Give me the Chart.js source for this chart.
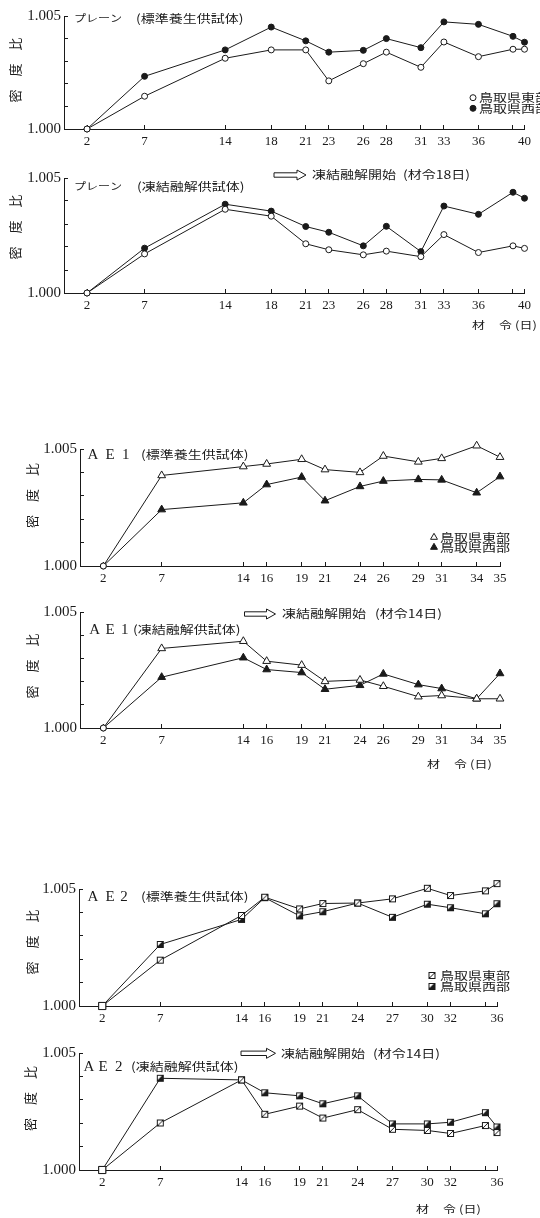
<!DOCTYPE html>
<html><head><meta charset="utf-8">
<script src="https://cdn.jsdelivr.net/npm/chart.js@4.4.1/dist/chart.umd.min.js"></script>
<style>
html,body{margin:0;padding:0;background:#fff;}
body{width:540px;height:1218px;position:relative;overflow:hidden;}
canvas{position:absolute;left:0;}
</style></head><body>
<canvas id="c1"></canvas><canvas id="c2"></canvas><canvas id="c3"></canvas>
<canvas id="c4"></canvas><canvas id="c5"></canvas><canvas id="c6"></canvas>
<script>
// ---------------- data ----------------
// x positions and the tick texts printed under them
const plainDays = [2,7,14,18,21,23,26,28,31,33,36,39,40];
const plainTickText = ['2','7','14','18','21','23','26','28','31','33','36','','40'];
const plainStdEast = [1.000,1.00145,1.00313,1.0035,1.0035,1.00213,1.00289,1.0034,1.00273,1.00385,1.0032,1.00353,1.00353];
const plainStdWest = [1.000,1.00233,1.0035,1.00451,1.0039,1.0034,1.00348,1.004,1.0036,1.00474,1.00463,1.0041,1.00384];
const plainFtEast  = [1.000,1.0017,1.00364,1.00334,1.00214,1.00188,1.00166,1.00182,1.00158,1.00254,1.00176,1.00205,1.00194];
const plainFtWest  = [1.000,1.00195,1.00386,1.00356,1.00289,1.00264,1.00205,1.0029,1.0018,1.00378,1.00342,1.00438,1.00412];

const ae1Days = [2,7,14,16,19,21,24,26,29,31,34,36];
const ae1TickText = ['2','7','14','16','19','21','24','26','29','31','34','35'];
const ae1StdEast = [1.000,1.00387,1.00425,1.00436,1.00456,1.00412,1.004,1.0047,1.00445,1.0046,1.00514,1.00465];
const ae1StdWest = [1.000,1.00241,1.0027,1.00348,1.0038,1.00279,1.0034,1.00363,1.0037,1.00368,1.00313,1.00382];
const ae1FtEast  = [1.000,1.00343,1.00374,1.00288,1.00271,1.00201,1.00207,1.0018,1.00135,1.0014,1.00126,1.00126];
const ae1FtWest  = [1.000,1.00219,1.00303,1.00252,1.00239,1.00167,1.00184,1.00233,1.00187,1.0017,1.00126,1.00235];

const ae2Days = [2,7,14,16,19,21,24,27,30,32,35,36];
const ae2TickText = ['2','7','14','16','19','21','24','27','30','32','','36'];
const ae2StdEast = [1.000,1.00196,1.00387,1.00465,1.00415,1.00438,1.0044,1.00458,1.00503,1.00472,1.00492,1.00523];
const ae2StdWest = [1.000,1.00263,1.0037,1.00463,1.00385,1.00403,1.0044,1.00379,1.00435,1.0042,1.00394,1.00437];
const ae2FtEast  = [1.000,1.00201,1.00385,1.00238,1.00273,1.00222,1.00258,1.00174,1.00169,1.00156,1.0019,1.0016];
const ae2FtWest  = [1.000,1.00392,1.00385,1.0033,1.00317,1.00283,1.00317,1.00197,1.00197,1.00204,1.00245,1.00184];

const yMin = 1.000, yMax = 1.005, yStep = 0.001;
const yTickLabels = ['1.000', '1.005'];
const seriesNames = ['鳥取県東部', '鳥取県西部'];
const yTitle = '密　度　比';
const xTitleParts = ['材', '令', '(日)'];
const plainName = 'プレーン';
const stdName = '(標準養生供試体)';
const ftName = '(凍結融解供試体)';
const arrowMain = '凍結融解開始';
const arrowNote18 = '(材令18日)';
const arrowNote14 = '(材令14日)';

// ---------------- styles ----------------
const INK = '#1a1a1a';
const SERIF = '"Liberation Serif", "DejaVu Serif", serif';
const CJK = '"Noto Sans CJK JP", sans-serif';

function mkMarker(kind) {
  const c = document.createElement('canvas');
  c.width = 9; c.height = 9;
  const g = c.getContext('2d');
  g.strokeStyle = INK; g.lineWidth = 1;
  if (kind === 'half') {
    g.fillStyle = INK; g.fillRect(1, 1, 7, 7);
    g.fillStyle = '#fff';
    g.beginPath(); g.moveTo(2, 2); g.lineTo(6, 2); g.lineTo(2, 6); g.closePath(); g.fill();
    g.strokeRect(1.5, 1.5, 6, 6);
  } else {
    g.fillStyle = '#fff'; g.fillRect(1, 1, 7, 7);
    g.strokeRect(1.5, 1.5, 6, 6);
    g.beginPath(); g.moveTo(1.5, 7.5); g.lineTo(7.5, 1.5); g.stroke();
  }
  return c;
}
const hatchImg = mkMarker('hatch');
const halfImg = mkMarker('half');

function drawLegendMarker(ctx, m, x, y) {
  ctx.save();
  ctx.lineWidth = 1; ctx.strokeStyle = INK;
  if (m.img) { ctx.drawImage(m.img, x - m.img.width / 2, y - m.img.height / 2); ctx.restore(); return; }
  ctx.fillStyle = m.fill;
  ctx.beginPath();
  if (m.style === 'circle') {
    ctx.arc(x, y, m.r, 0, Math.PI * 2);
  } else {
    let a = 0;
    ctx.moveTo(x + Math.sin(a) * m.r, y - Math.cos(a) * m.r);
    a += Math.PI * 2 / 3; ctx.lineTo(x + Math.sin(a) * m.r, y - Math.cos(a) * m.r);
    a += Math.PI * 2 / 3; ctx.lineTo(x + Math.sin(a) * m.r, y - Math.cos(a) * m.r);
    ctx.closePath();
  }
  ctx.fill(); ctx.stroke();
  ctx.restore();
}

function cjkText(ctx, text, x, y, size, align) {
  ctx.save();
  ctx.font = size + 'px ' + CJK;
  ctx.fillStyle = INK;
  ctx.textAlign = align || 'left';
  ctx.textBaseline = 'middle';
  ctx.translate(x, y); ctx.scale(1, 0.82);
  ctx.fillText(text, 0, 0);
  ctx.restore();
}

function hollowArrow(ctx, x1, x2, y) {
  const hw = 2.2, hh = 5, hl = 9;
  ctx.save();
  ctx.beginPath();
  ctx.moveTo(x1, y - hw); ctx.lineTo(x2 - hl, y - hw); ctx.lineTo(x2 - hl, y - hh);
  ctx.lineTo(x2, y); ctx.lineTo(x2 - hl, y + hh); ctx.lineTo(x2 - hl, y + hw);
  ctx.lineTo(x1, y + hw); ctx.closePath();
  ctx.lineWidth = 1; ctx.strokeStyle = INK; ctx.stroke();
  ctx.restore();
}

const annotPlugin = {
  id: 'annot',
  afterDraw(chart, args, o) {
    const ctx = chart.ctx;
    ctx.save();
    ctx.translate(0, -o.oy);
    // y title
    ctx.save();
    ctx.translate(o.ylab.x, o.ylab.y); ctx.rotate(-Math.PI / 2);
    ctx.font = '13px ' + CJK; ctx.fillStyle = INK;
    ctx.textAlign = 'center'; ctx.textBaseline = 'middle';
    ctx.fillText(yTitle, 0, 0);
    ctx.restore();
    // panel title
    const t = o.title;
    if (t.prefix) cjkText(ctx, t.prefix, t.prefixX, t.y, 12);
    if (t.letters) {
      ctx.save();
      ctx.font = '15px ' + SERIF; ctx.fillStyle = INK;
      ctx.textAlign = 'center'; ctx.textBaseline = 'middle';
      t.letters.forEach(l => ctx.fillText(l[0], l[1], t.y + 0.5));
      ctx.restore();
    }
    cjkText(ctx, t.paren, t.parenX, t.y, 14);
    // legend
    if (o.legend) {
      const L = o.legend;
      drawLegendMarker(ctx, L.m1, L.x, L.y1);
      drawLegendMarker(ctx, L.m2, L.x, L.y2);
      cjkText(ctx, seriesNames[0], L.tx, L.y1, 14);
      cjkText(ctx, seriesNames[1], L.tx, L.y2, 14);
    }
    // arrow note
    if (o.arrow) {
      const A = o.arrow;
      hollowArrow(ctx, A.x1, A.x2, A.y);
      cjkText(ctx, arrowMain, A.t1, A.y, 14);
      cjkText(ctx, A.note, A.t2, A.y, 14);
    }
    // x title
    if (o.xtitle) {
      const X = o.xtitle;
      cjkText(ctx, xTitleParts[0], X.x, X.y, 13);
      cjkText(ctx, xTitleParts[1], X.x + 27, X.y, 13);
      cjkText(ctx, xTitleParts[2], X.x + 43, X.y, 13);
    }
    ctx.restore();
  }
};

function ptStyles(n, first, rest) { return Array.from({length: n}, (_, i) => i === 0 ? first : rest); }

function build(c) {
  const cv = document.getElementById(c.id);
  cv.width = 540; cv.height = c.h; cv.style.top = c.top + 'px';
  const A = c.area;
  const n = c.days.length;
  const mk = c.markers;
  const ds = (label, vals, m) => ({
    label,
    data: c.days.map((d, i) => ({x: d, y: vals[i]})),
    borderColor: INK, borderWidth: 1, tension: 0, fill: false, clip: false,
    pointStyle: ptStyles(n, m.firstStyle, m.style),
    pointRadius: ptStyles(n, m.firstR, m.r),
    pointBackgroundColor: ptStyles(n, '#fff', m.fill),
    pointBorderColor: INK, pointBorderWidth: 1
  });
  new Chart(cv, {
    type: 'line',
    data: { datasets: [ds(seriesNames[0], c.east, mk.east), ds(seriesNames[1], c.west, mk.west)] },
    options: {
      responsive: false, animation: false, devicePixelRatio: 1,
      layout: { padding: { left: 0, top: A.t - c.top, right: 540 - A.r, bottom: 0 } },
      plugins: { legend: { display: false }, tooltip: { enabled: false }, annot: c.annot },
      scales: {
        x: {
          type: 'linear', position: 'bottom', min: 0, max: c.xmax,
          grid: { display: true, drawOnChartArea: false, drawTicks: true, tickLength: -4, color: INK, lineWidth: 1 },
          border: { display: true, color: INK, width: 1 },
          ticks: {
            autoSkip: false, maxRotation: 0, minRotation: 0, padding: 9, color: INK,
            font: { family: SERIF, size: 13 },
            callback: (v) => { const i = c.days.indexOf(v); return i >= 0 ? c.tickText[i] : ''; }
          },
          afterBuildTicks: (s) => { s.ticks = c.days.map(v => ({ value: v })); },
          afterFit: (s) => { s.height = c.top + c.h - A.b; }
        },
        y: {
          type: 'linear', position: 'left', min: yMin, max: yMax,
          grid: { display: true, drawOnChartArea: false, drawTicks: true, tickLength: -4, color: INK, lineWidth: 1 },
          border: { display: true, color: INK, width: 1 },
          ticks: {
            stepSize: yStep, padding: 7, color: INK, autoSkip: false,
            font: { family: SERIF, size: 15 },
            callback: (v) => Math.abs(v - yMin) < 1e-7 ? yTickLabels[0] : (Math.abs(v - yMax) < 1e-7 ? yTickLabels[1] : '')
          },
          afterFit: (s) => { s.width = A.l; }
        }
      }
    },
    plugins: [annotPlugin]
  });
}

const circleMarkers = {
  east: { firstStyle: 'circle', style: 'circle', firstR: 3, r: 3, fill: '#fff' },
  west: { firstStyle: 'circle', style: 'circle', firstR: 3, r: 3, fill: INK }
};
const triMarkers = {
  east: { firstStyle: 'circle', style: 'triangle', firstR: 3, r: 4.5, fill: '#fff' },
  west: { firstStyle: 'circle', style: 'triangle', firstR: 3, r: 4.5, fill: INK }
};
const sqMarkers = {
  east: { firstStyle: 'rect', style: hatchImg, firstR: 5, r: 4.5, fill: '#fff' },
  west: { firstStyle: 'rect', style: halfImg, firstR: 5, r: 4.5, fill: '#fff' }
};

const panels = [
  { id: 'c1', top: 0, h: 158, area: { l: 64, r: 530, t: 13, b: 129 }, xmax: 40,
    days: plainDays, tickText: plainTickText, east: plainStdEast, west: plainStdWest, markers: circleMarkers,
    annot: { oy: 0, ylab: { x: 15, y: 70 },
      title: { y: 18.5, prefix: plainName, prefixX: 74, paren: stdName, parenX: 136 },
      legend: { x: 473, y1: 97.7, y2: 108.3, tx: 479,
        m1: { style: 'circle', r: 3, fill: '#fff' }, m2: { style: 'circle', r: 3, fill: INK } } } },
  { id: 'c2', top: 158, h: 182, area: { l: 64, r: 530, t: 178, b: 293 }, xmax: 40,
    days: plainDays, tickText: plainTickText, east: plainFtEast, west: plainFtWest, markers: circleMarkers,
    annot: { oy: 158, ylab: { x: 15, y: 227 },
      title: { y: 186.7, prefix: plainName, prefixX: 74, paren: ftName, parenX: 137 },
      arrow: { x1: 274, x2: 306, y: 175, t1: 312, t2: 403, note: arrowNote18 },
      xtitle: { x: 472, y: 325 } } },
  { id: 'c3', top: 425, h: 165, area: { l: 80, r: 500, t: 449, b: 566 }, xmax: 36,
    days: ae1Days, tickText: ae1TickText, east: ae1StdEast, west: ae1StdWest, markers: triMarkers,
    annot: { oy: 425, ylab: { x: 31.7, y: 495.5 },
      title: { y: 455, letters: [['A', 93], ['E', 110], ['1', 125.7]], paren: stdName, parenX: 141 },
      legend: { x: 434, y1: 537.3, y2: 547.3, tx: 440,
        m1: { style: 'triangle', r: 4, fill: '#fff' }, m2: { style: 'triangle', r: 4, fill: INK } } } },
  { id: 'c4', top: 590, h: 190, area: { l: 80, r: 500, t: 612, b: 728 }, xmax: 36,
    days: ae1Days, tickText: ae1TickText, east: ae1FtEast, west: ae1FtWest, markers: triMarkers,
    annot: { oy: 590, ylab: { x: 31.7, y: 666 },
      title: { y: 630, letters: [['A', 94.7], ['E', 110], ['1', 124.7]], paren: ftName, parenX: 133 },
      arrow: { x1: 244.5, x2: 275.5, y: 614, t1: 282, t2: 375, note: arrowNote14 },
      xtitle: { x: 427, y: 764 } } },
  { id: 'c5', top: 850, h: 175, area: { l: 79, r: 497, t: 889, b: 1006 }, xmax: 36,
    days: ae2Days, tickText: ae2TickText, east: ae2StdEast, west: ae2StdWest, markers: sqMarkers,
    annot: { oy: 850, ylab: { x: 31.7, y: 942 },
      title: { y: 896.7, letters: [['A', 93], ['E', 110], ['2', 124]], paren: stdName, parenX: 141 },
      legend: { x: 432, y1: 975.5, y2: 986.5, tx: 440, m1: { img: hatchImg }, m2: { img: halfImg } } } },
  { id: 'c6', top: 1025, h: 193, area: { l: 79, r: 497, t: 1053, b: 1170 }, xmax: 36,
    days: ae2Days, tickText: ae2TickText, east: ae2FtEast, west: ae2FtWest, markers: sqMarkers,
    annot: { oy: 1025, ylab: { x: 30, y: 1098.5 },
      title: { y: 1066.7, letters: [['A', 88.8], ['E', 103], ['2', 118.8]], paren: ftName, parenX: 131 },
      arrow: { x1: 241, x2: 275.5, y: 1053.3, t1: 281, t2: 373, note: arrowNote14 },
      xtitle: { x: 416, y: 1209 } } }
];

panels.forEach(build);
</script>
</body></html>
